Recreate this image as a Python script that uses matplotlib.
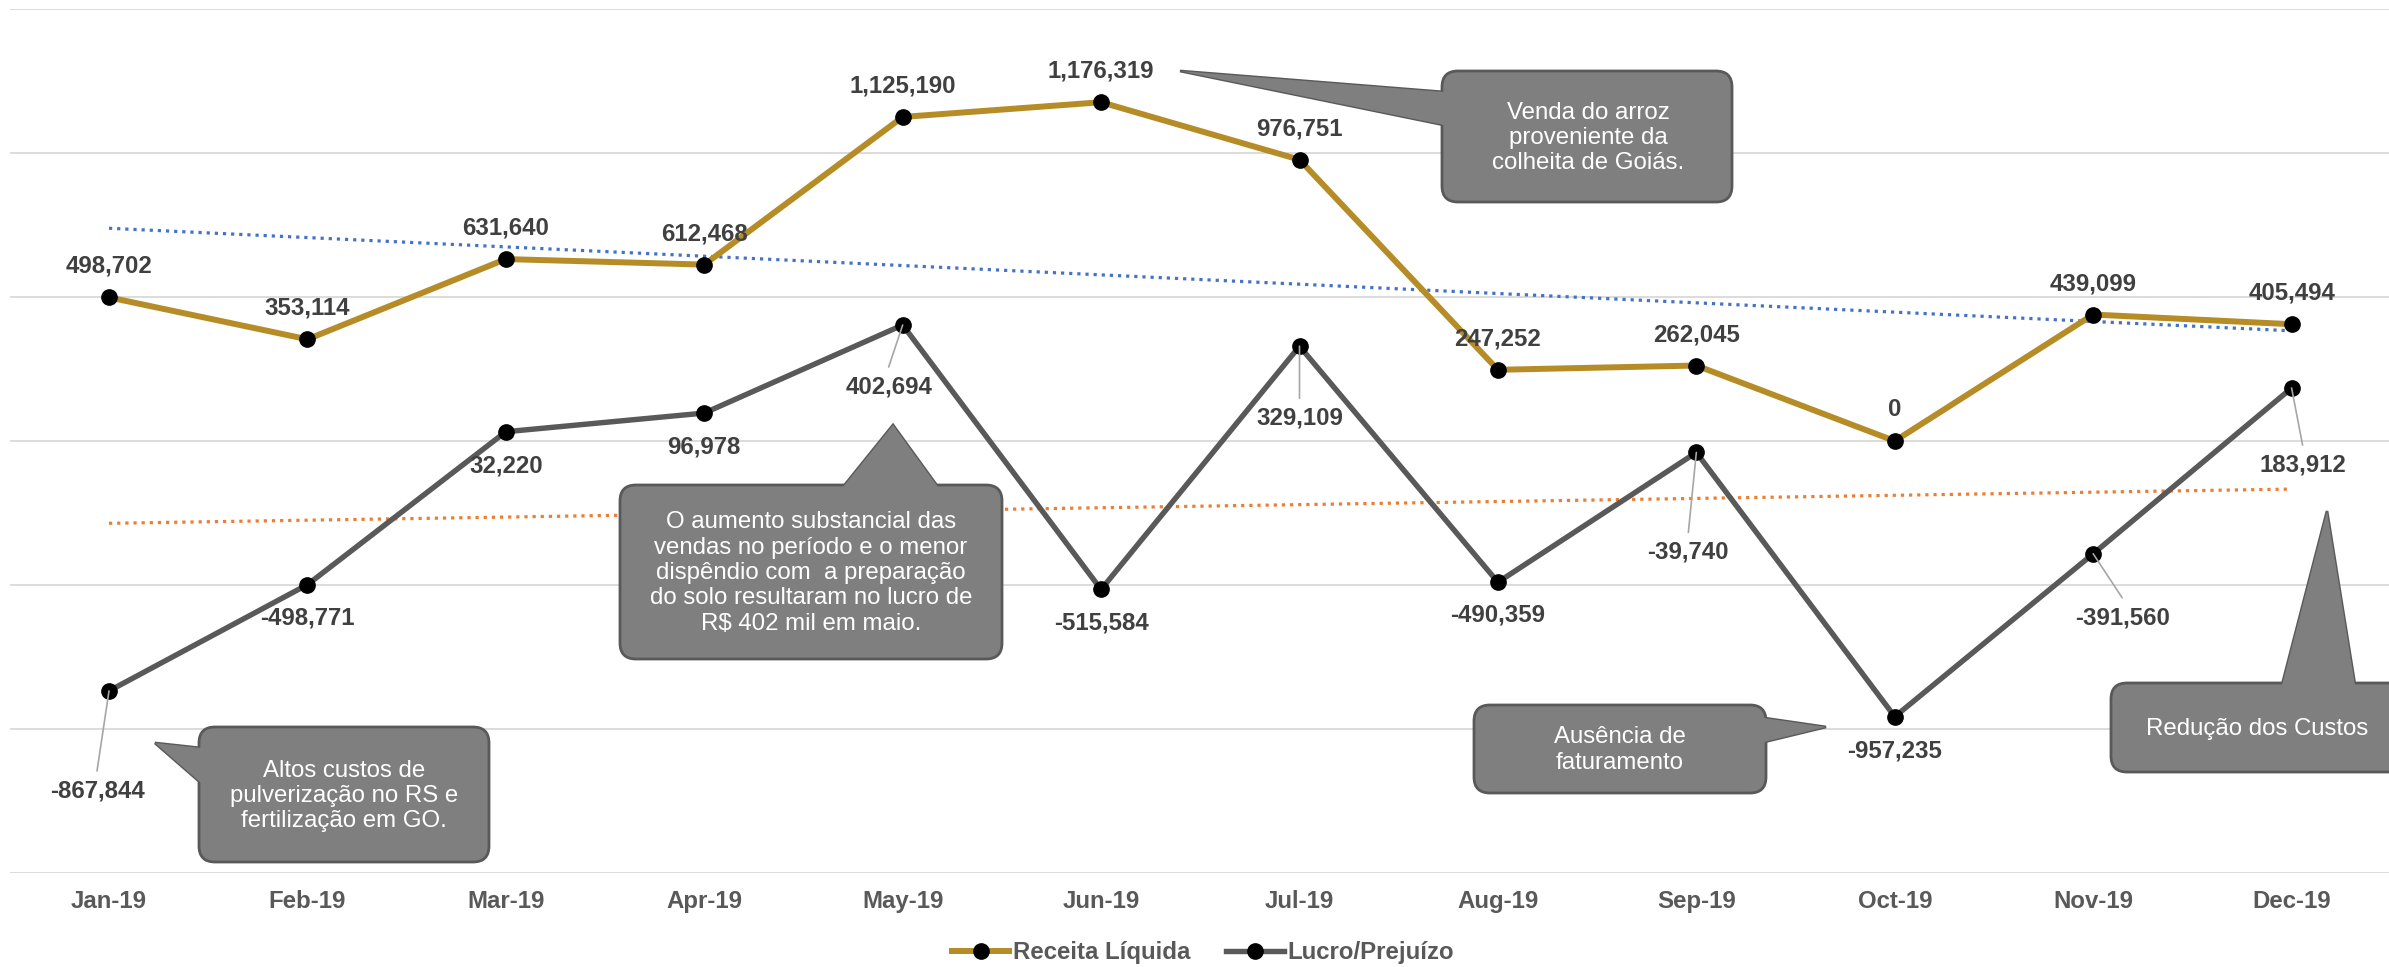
import numpy as np
import matplotlib
matplotlib.use('Agg')
import matplotlib.pyplot as plt
from matplotlib.patches import FancyBboxPatch, Polygon
from matplotlib.lines import Line2D
from matplotlib.transforms import IdentityTransform

plt.rcParams['font.family'] = ['Liberation Sans', 'DejaVu Sans']

# dados
meses = ['Jan-19', 'Feb-19', 'Mar-19', 'Apr-19', 'May-19', 'Jun-19',
         'Jul-19', 'Aug-19', 'Sep-19', 'Oct-19', 'Nov-19', 'Dec-19']
receita = [498702, 353114, 631640, 612468, 1125190, 1176319,
           976751, 247252, 262045, 0, 439099, 405494]
lucro = [-867844, -498771, 32220, 96978, 402694, -515584,
         329109, -490359, -39740, -957235, -391560, 183912]

W, H = 2389, 967
fig = plt.figure(figsize=(W / 100, H / 100), dpi=100)
ax = fig.add_axes([9.8 / W, (H - 873) / H, 2381 / W, 864 / H])

x = np.arange(len(meses))
ax.set_xlim(-0.5, 11.5)
ax.set_ylim(-1.5e6, 1.5e6)
ax.set_yticks(np.arange(-1.5e6, 1.5e6 + 1, 5e5))
ax.yaxis.grid(True, color='#D9D9D9', lw=1.3)
ax.set_axisbelow(True)
ax.tick_params(axis='y', left=False, labelleft=False)
ax.tick_params(axis='x', length=0, pad=12)
ax.set_xticks(x)
ax.set_xticklabels(meses, fontsize=17.3, fontweight='bold', color='#595959')
for s in ax.spines.values():
    s.set_visible(False)

# linhas de tendencia (regressao linear)
c1 = np.polyfit(x, receita, 1)
c2 = np.polyfit(x, lucro, 1)
ax.plot(x, np.polyval(c1, x), color='#4472C4', lw=2.3, ls=(0, (1, 1.55)), zorder=2)
ax.plot(x, np.polyval(c2, x), color='#ED7D31', lw=2.3, ls=(0, (1, 1.55)), zorder=2)

gold = '#B68C27'
gray = '#595959'
ax.plot(x, receita, color=gold, lw=4.3, marker='o', ms=11, mfc='black', mec='black', zorder=4)
ax.plot(x, lucro, color=gray, lw=3.9, marker='o', ms=11, mfc='black', mec='black', zorder=4)

k = 0.72  # px -> pt
lbl = dict(ha='center', va='center', fontsize=17.3, fontweight='bold', color='#404040', zorder=6)
for i, v in enumerate(receita):
    ax.annotate(f'{v:,}', (x[i], v), xytext=(0, 31 * k), textcoords='offset points', **lbl)

# deslocamento dos rotulos do lucro (px, y para baixo)
off_lucro = [(-12, 100), (0, 33), (0, 34), (0, 34), (-14, 62), (0, 34),
             (0, 72), (0, 33), (-8, 100), (0, 34), (29, 64), (11, 77)]
for i, v in enumerate(lucro):
    dx, dy = off_lucro[i]
    ax.annotate(f'{v:,}', (x[i], v), xytext=(dx * k, -dy * k), textcoords='offset points', **lbl)
    if dy > 40:
        ax.annotate('', xy=(x[i], v), xytext=(dx * k, -(dy - 20) * k), textcoords='offset points',
                    arrowprops=dict(arrowstyle='-', color='#A6A6A6', lw=1.2, shrinkA=0, shrinkB=0),
                    zorder=5)

# balões
def callout(x0, y0, x1, y1, wedge, txt, tx, ty):
    r = 16
    tr = IdentityTransform()
    pts = [(px, H - py) for px, py in wedge]
    fig.add_artist(Polygon(pts, closed=True, fc='#7F7F7F', ec='#595959', lw=2, transform=tr, zorder=5))
    fig.add_artist(FancyBboxPatch((x0 + r, H - y1 + r), x1 - x0 - 2 * r, y1 - y0 - 2 * r,
                                  boxstyle=f'round,pad={r},rounding_size={r}',
                                  fc='#7F7F7F', ec='#595959', lw=2, transform=tr, zorder=6))
    fig.add_artist(Polygon(pts, closed=True, fc='#7F7F7F', ec='none', transform=tr, zorder=7))
    fig.text(tx / W, 1 - ty / H, txt, ha='center', va='center', color='white',
             fontsize=17.3, linespacing=1.2, zorder=8, parse_math=False)

callout(1442, 71, 1732, 202, [(1444, 92), (1180, 71), (1444, 125)],
        'Venda do arroz\nproveniente da\ncolheita de Goiás.', 1588, 138)
callout(620, 485, 1002, 659, [(843, 487), (893, 425), (938, 487)],
        'O aumento substancial das\nvendas no período e o menor\ndispêndio com  a preparação\n'
        'do solo resultaram no lucro de\nR$ 402 mil em maio.', 811, 573)
callout(199, 727, 489, 862, [(201, 748), (155, 743), (201, 783)],
        'Altos custos de\npulverização no RS e\nfertilização em GO.', 344, 796)
callout(1474, 705, 1766, 793, [(1764, 718), (1826, 727), (1764, 742)],
        'Ausência de\nfaturamento', 1620, 750)
callout(2111, 683, 2420, 772, [(2282, 685), (2327, 511), (2355, 685)],
        'Redução dos Custos', 2257, 729)

handles = [Line2D([], [], color=gold, lw=4.3, marker='o', ms=11, mfc='black', mec='black'),
           Line2D([], [], color=gray, lw=3.9, marker='o', ms=11, mfc='black', mec='black')]
leg = fig.legend(handles, ['Receita Líquida', 'Lucro/Prejuízo'], loc='center',
                 bbox_to_anchor=(1203 / W, 1 - 953 / H), ncol=2, frameon=False,
                 handlelength=2.4, handletextpad=0.15, columnspacing=1.5,
                 prop=dict(size=17.3, weight='bold'))
for t in leg.get_texts():
    t.set_color('#595959')

fig.savefig('out.png', dpi=100)
